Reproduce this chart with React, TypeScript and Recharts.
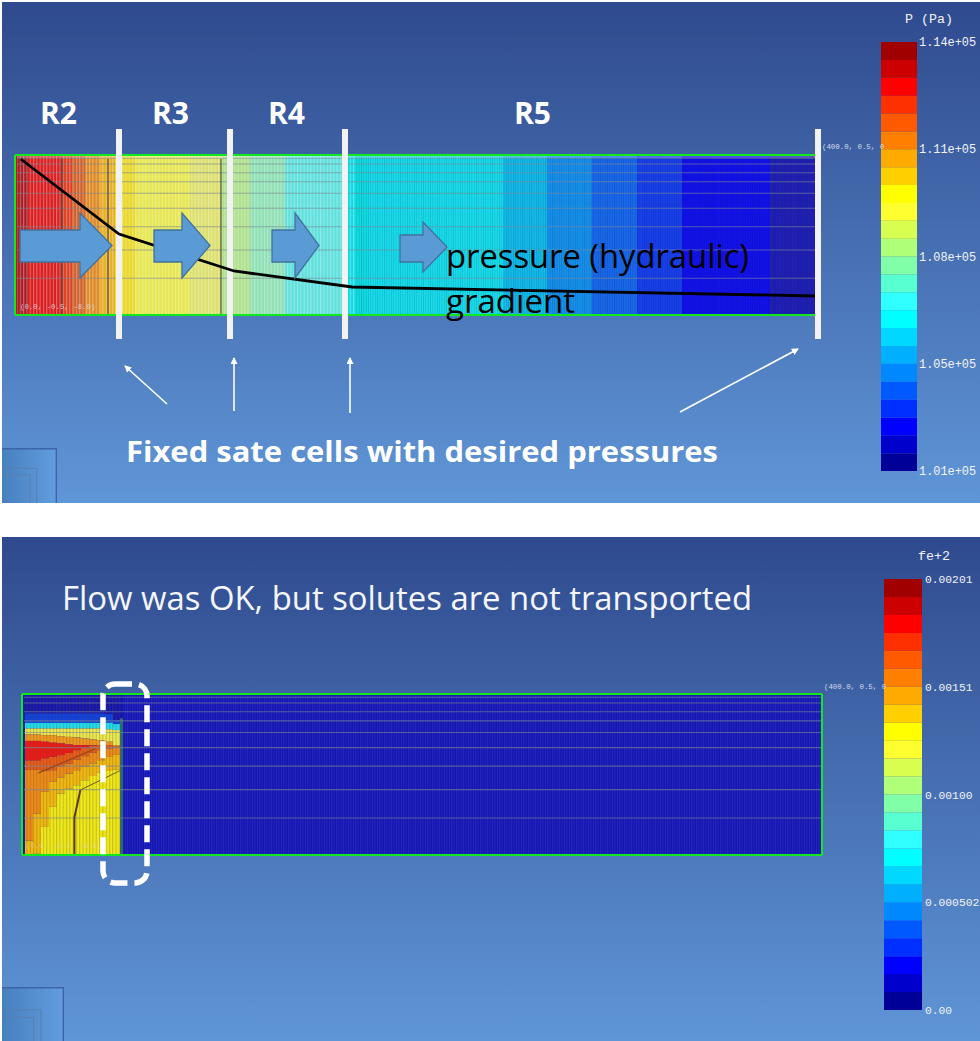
import {
  BarChart, Bar, LineChart, Line, XAxis, YAxis, ReferenceArea, ReferenceLine,
} from 'recharts'

// jet style legend, top to bottom
const LEGEND_COLORS = [
  '#a00000', '#cc0000', '#ff0000', '#ff3000', '#ff5a00', '#ff8000', '#ffaa00', '#ffd000',
  '#ffff00', '#ffff30', '#d8ff50', '#b0ff78', '#80ffa8', '#58ffd0', '#30ffff', '#00ffff',
  '#00d8ff', '#00b0ff', '#0088ff', '#0058ff', '#0030ff', '#0000ff', '#0000cc', '#000098',
]
const pressureTicks = ['1.01e+05', '1.05e+05', '1.08e+05', '1.11e+05', '1.14e+05']
const ironTicks = ['0.00', '0.000502', '0.00100', '0.00151', '0.00201']

// pressure field: width of each colour band along x (m)
const pressureBandWidths = [6.5, 17, 5, 6.5, 7.5, 7.5, 10, 27.5, 16, 14, 17.5, 30, 11.5, 67.5, 22, 22.5, 22.5, 22.5, 44, 22.5]
const pressureBandColors = [
  '#a81c24', '#d91e20', '#dc4022', '#d0622c', '#de8a26', '#e8ae24', '#e9d72a', '#e6e650', '#dce06e', '#aee08e',
  '#8fe0b4', '#5fe0dc', '#10dbe0', '#18dcea', '#12bae8', '#1690ea', '#1868ea', '#1840ea', '#1212ea', '#2020b4',
]

// hydraulic head line
const headX = [2.85, 52, 109.5, 168.5, 400]
const headY = [-0.2, -3.95, -5.8, -6.6, -7.05]

// fixed state cell columns
const fixedCellX = [52, 107.5, 165, 401.5]
// darker mesh columns in the pressure field
const darkColumnX = [23.5, 46.5, 103]
// horizontal mesh lines, same for both plots
const meshDepths = [-0.165, -0.45, -0.885, -1.335, -1.915, -2.665, -3.585, -4.75, -6.165]

// fe+2 plume: thickness of each layer in the 12 columns of the source block, top to bottom
const plumeColumns = ['c1', 'c2', 'c3', 'c4', 'c5', 'c6', 'c7', 'c8', 'c9', 'c10', 'c11', 'c12']
const plumeDeep = [0.97, 0.97, 0.97, 0.97, 0.97, 0.97, 0.97, 0.97, 0.97, 0.97, 1.0, 1.3]
const plumeBlue = [0.47, 0.47, 0.47, 0.47, 0.47, 0.47, 0.47, 0.47, 0.47, 0.47, 0.43, 0.2]
const plumeCyan = [0.28, 0.28, 0.28, 0.28, 0.28, 0.28, 0.28, 0.28, 0.28, 0.28, 0.33, 0.3]
const plumeYellowTop = [0.3, 0.3, 0.33, 0.33, 0.38, 0.42, 0.45, 0.5, 0.55, 0.58, 0.62, 0.75]
const plumeOrangeTop = [0.32, 0.32, 0.33, 0.38, 0.37, 0.38, 0.38, 0.33, 0.28, 0.25, 0.17, 0.08]
const plumeRed = [0.97, 0.97, 0.83, 0.7, 0.58, 0.42, 0.25, 0.13, 0.03, 0, 0, 0]
const plumeRedOrange = [0.47, 0.47, 0.62, 0.67, 0.58, 0.53, 0.47, 0.42, 0.35, 0.25, 0.17, 0.03]
const plumeOrange = [3.53, 2.19, 1.05, 0.58, 0.53, 0.5, 0.53, 0.53, 0.53, 0.5, 0.42, 0.38]
const plumeAmber = [0.67, 2.0, 1.75, 1.25, 0.8, 0.75, 0.75, 0.67, 0.63, 0.63, 0.7, 0.72]
const plumeYellow = [0.05, 0.05, 1.37, 2.37, 3.03, 3.28, 3.45, 3.7, 3.9, 4.07, 4.17, 4.24]

const contourThickX = [26.2, 26.2, 29.2]
const contourThickY = [-7.97, -6.13, -4.77]
const contourThinX = [29.2, 49.2]
const contourThinY = [-4.77, -3.8]
const contourUpperX = [8.3, 36.7]
const contourUpperY = [-3.92, -2.72]

const FIELD_BLUE = '#1616ae'
const GREEN = '#12e81e'
const MESH = '#7d8896'
const LABEL_FONT = '"Liberation Mono", monospace'
const SLIDE_FONT = '"Open Sans", sans-serif'

const toPoints = (xs: number[], ys: number[]) => xs.map((x, i) => ({ x, y: ys[i] }))

function abs(top: number, left = 0) {
  return { position: 'absolute' as const, top, left }
}

function Colorbar({ top, left, width, height, ticks, gap, fontSize }: {
  top: number; left: number; width: number; height: number; ticks: string[]; gap: number; fontSize: number
}) {
  const row: Record<string, number | string> = { name: 'legend' }
  const bottomUp = [...LEGEND_COLORS].reverse()
  bottomUp.forEach((_c, i) => { row[`s${i}`] = 1 })
  return (
    <div style={abs(top - 12, left)}>
      <BarChart width={width + 62} height={height + 24} data={[row]} barCategoryGap={0}
        margin={{ top: 12, right: 0, bottom: 12, left: 0 }}>
        <XAxis dataKey="name" hide />
        <YAxis orientation="right" type="number" domain={[0, 24]} ticks={[0, 6, 12, 18, 24]} width={62}
          axisLine={false} tickLine={false} tickSize={0} interval={0} tickMargin={gap}
          tickFormatter={(v: number) => ticks[v / 6]}
          tick={{ fill: '#f2f4f8', fontSize, fontFamily: LABEL_FONT }} />
        {bottomUp.map((c, i) => (
          <Bar key={c} dataKey={`s${i}`} stackId="legend" fill={c} isAnimationActive={false} />
        ))}
      </BarChart>
    </div>
  )
}

function PressureField() {
  const row: Record<string, number | string> = { name: 'field' }
  pressureBandWidths.forEach((w, i) => { row[`b${i}`] = w })
  return (
    <div style={abs(155, 15)}>
      <BarChart layout="vertical" width={800} height={160} data={[row]} barCategoryGap={0}
        margin={{ top: 0, right: 0, bottom: 0, left: 0 }}>
        <XAxis type="number" domain={[0, 400]} hide />
        <YAxis type="category" dataKey="name" hide />
        {pressureBandWidths.map((_w, i) => (
          <Bar key={i} dataKey={`b${i}`} stackId="field" fill={pressureBandColors[i]} isAnimationActive={false} />
        ))}
      </BarChart>
    </div>
  )
}

const meshLines = () => meshDepths.map((y) => (
  <ReferenceLine key={y} segment={[{ x: 1, y }, { x: 400, y }]} stroke={MESH} strokeOpacity={0.62} strokeWidth={1.1} />
))

function PressureOverlay() {
  return (
    <div style={abs(0)}>
      <LineChart width={980} height={503} margin={{ top: 129, right: 159, bottom: 164, left: 15 }}>
        <defs>
          <pattern id="meshWide" width="3.3" height="4" patternUnits="userSpaceOnUse">
            <rect width="1.1" height="4" fill="#ffffff" fillOpacity="0.32" />
          </pattern>
          <pattern id="meshFine" width="2.3" height="4" patternUnits="userSpaceOnUse">
            <rect width="0.8" height="4" fill="#000030" fillOpacity="0.14" />
          </pattern>
        </defs>
        <XAxis type="number" dataKey="x" domain={[0, 403]} hide />
        <YAxis type="number" domain={[-9.2, 1.3]} hide />
        <ReferenceArea x1={1} x2={170} y1={-8} y2={0} fill="url(#meshWide)" fillOpacity={1} />
        <ReferenceArea x1={170} x2={400} y1={-8} y2={0} fill="url(#meshFine)" fillOpacity={1} />
        <ReferenceArea x1={1} x2={400} y1={-0.15} y2={0} fill="#ffffff" fillOpacity={0.25} />
        {meshLines()}
        {darkColumnX.map((x) => (
          <ReferenceLine key={x} stroke="#4a4a3a" strokeOpacity={0.75} strokeWidth={1.5} segment={[{ x, y: -8 }, { x, y: -0.2 }]} />
        ))}
        <ReferenceLine segment={[{ x: 0, y: 0 }, { x: 400, y: 0 }]} stroke={GREEN} strokeWidth={2} />
        <ReferenceLine segment={[{ x: 0, y: -8 }, { x: 400, y: -8 }]} stroke={GREEN} strokeWidth={2} />
        <ReferenceLine segment={[{ x: 0, y: -8 }, { x: 0, y: 0 }]} stroke={GREEN} strokeWidth={2} />
        {fixedCellX.map((x) => (
          <ReferenceLine key={x} x={x} stroke="#f2f2f2" strokeWidth={6} />
        ))}
        <Line data={toPoints(headX, headY)} dataKey="y" stroke="#000000" strokeWidth={2.8} dot={false}
          isAnimationActive={false} />
      </LineChart>
    </div>
  )
}

function IronField() {
  const rows = plumeColumns.map((name, i) => ({
    name,
    deep: plumeDeep[i], blue: plumeBlue[i], cyan: plumeCyan[i], yellowTop: plumeYellowTop[i],
    orangeTop: plumeOrangeTop[i], red: plumeRed[i], redOrange: plumeRedOrange[i],
    orange: plumeOrange[i], amber: plumeAmber[i], yellow: plumeYellow[i],
  }))
  return (
    <>
      <div style={abs(694, 22)}>
        <BarChart layout="vertical" width={800} height={161} data={[{ name: 'field', rest: 400 }]} barCategoryGap={0}
          margin={{ top: 0, right: 0, bottom: 0, left: 0 }}>
          <XAxis type="number" domain={[0, 400]} hide />
          <YAxis type="category" dataKey="name" hide />
          <Bar dataKey="rest" fill={FIELD_BLUE} isAnimationActive={false} />
        </BarChart>
      </div>
      <div style={abs(694, 25)}>
        <BarChart width={96} height={161} data={rows} barCategoryGap={0}
          margin={{ top: 0, right: 0, bottom: 0, left: 0 }}>
          <XAxis dataKey="name" hide />
          <YAxis type="number" domain={[0, 8]} reversed hide />
          <Bar dataKey="deep" stackId="p" fill={FIELD_BLUE} isAnimationActive={false} />
          <Bar dataKey="blue" stackId="p" fill="#1040e0" isAnimationActive={false} />
          <Bar dataKey="cyan" stackId="p" fill="#20dcee" isAnimationActive={false} />
          <Bar dataKey="yellowTop" stackId="p" fill="#ece850" isAnimationActive={false} />
          <Bar dataKey="orangeTop" stackId="p" fill="#f09820" isAnimationActive={false} />
          <Bar dataKey="red" stackId="p" fill="#ee1818" isAnimationActive={false} />
          <Bar dataKey="redOrange" stackId="p" fill="#ea5a18" isAnimationActive={false} />
          <Bar dataKey="orange" stackId="p" fill="#ef8a18" isAnimationActive={false} />
          <Bar dataKey="amber" stackId="p" fill="#f2b810" isAnimationActive={false} />
          <Bar dataKey="yellow" stackId="p" fill="#f0e818" isAnimationActive={false} />
        </BarChart>
      </div>
    </>
  )
}

function IronOverlay() {
  return (
    <div style={abs(0)}>
      <LineChart width={980} height={1041} margin={{ top: 694, right: 158, bottom: 186, left: 22 }}>
        <defs>
          <pattern id="ironWide" width="3.3" height="4" patternUnits="userSpaceOnUse">
            <rect width="1.1" height="4" fill="#505030" fillOpacity="0.28" />
          </pattern>
          <pattern id="ironFine" width="2.4" height="4" patternUnits="userSpaceOnUse">
            <rect width="0.9" height="4" fill="#3a40e0" fillOpacity="0.4" />
          </pattern>
        </defs>
        <XAxis type="number" dataKey="x" domain={[0, 400]} hide />
        <YAxis type="number" domain={[-8, 0]} hide />
        <ReferenceArea x1={1} x2={49} y1={-8} y2={0} fill="url(#ironWide)" fillOpacity={1} />
        <ReferenceArea x1={49} x2={50.5} y1={-8} y2={-1.2} fill="#2c6a70" fillOpacity={1} />
        <ReferenceArea x1={50.5} x2={400} y1={-8} y2={0} fill="url(#ironFine)" fillOpacity={1} />
        {meshLines()}
        <Line data={toPoints(contourThickX, contourThickY)} dataKey="y" stroke="#5a3a18" strokeWidth={2} dot={false} isAnimationActive={false} />
        <Line data={toPoints(contourThinX, contourThinY)} dataKey="y" stroke="#7a5a20" strokeWidth={1} dot={false} isAnimationActive={false} />
        <Line data={toPoints(contourUpperX, contourUpperY)} dataKey="y" stroke="#8a4a18" strokeWidth={1.2} dot={false} isAnimationActive={false} />
        <ReferenceLine segment={[{ x: 0, y: 0 }, { x: 400, y: 0 }]} stroke={GREEN} strokeWidth={2} />
        <ReferenceLine segment={[{ x: 0, y: -8 }, { x: 400, y: -8 }]} stroke={GREEN} strokeWidth={2} />
        <ReferenceLine segment={[{ x: 0, y: -8 }, { x: 0, y: 0 }]} stroke={GREEN} strokeWidth={2} />
        <ReferenceLine segment={[{ x: 400, y: -8 }, { x: 400, y: 0 }]} stroke={GREEN} strokeWidth={2} />
      </LineChart>
    </div>
  )
}

function BlockArrow({ left, head, tip, shaftTop, shaftBottom, headTop, headBottom }: {
  left: number; head: number; tip: number; shaftTop: number; shaftBottom: number; headTop: number; headBottom: number
}) {
  const mid = (headTop + headBottom) / 2
  const d = `M${left},${shaftTop} L${head},${shaftTop} L${head},${headTop} L${tip},${mid} L${head},${headBottom} L${head},${shaftBottom} L${left},${shaftBottom} Z`
  return <path d={d} fill="#5b9bd5" stroke="#41719c" strokeWidth={1.3} />
}

function AxisCube({ top, size }: { top: number; size: number }) {
  const inner = size * 0.63
  const innerB = size * 0.51
  return (
    <g>
      <rect x={2} y={top} width={size} height={size} fill="url(#cubeFill)" />
      <path d={`M2,${top + 0.7} H${2 + size - 0.7} V${top + size}`} fill="none" stroke="#3f63a8" strokeWidth={1.4} />
      <path d={`M2,${top + size - inner} H${2 + inner} V${top + size}`} fill="none" stroke="#5a7fb0" strokeWidth={1} />
      <path d={`M2,${top + size - innerB} H${2 + innerB} V${top + size}`} fill="none" stroke="#5a7fb0" strokeWidth={1} />
    </g>
  )
}

function Annotations() {
  const whiteArrows = [
    [167, 404, 125, 366],
    [234, 411, 234, 358],
    [350, 413, 350, 358],
    [680, 412, 798, 349],
  ]
  return (
    <svg width={980} height={1041} style={{ ...abs(0), pointerEvents: 'none' }}>
      <defs>
        <marker id="whiteHead" markerWidth="7" markerHeight="7" refX="6" refY="3.5" orient="auto" markerUnits="userSpaceOnUse">
          <path d="M0,0 L7,3.5 L0,7 Z" fill="#ffffff" />
        </marker>
        <linearGradient id="cubeFill" x1="0" y1="0" x2="1" y2="0">
          <stop offset="0" stopColor="#4780bd" />
          <stop offset="1" stopColor="#629de0" />
        </linearGradient>
      </defs>
      <BlockArrow left={20} head={80} tip={112} shaftTop={230} shaftBottom={262} headTop={213} headBottom={278} />
      <BlockArrow left={154} head={182} tip={210} shaftTop={230} shaftBottom={262} headTop={213} headBottom={278} />
      <BlockArrow left={272} head={295} tip={319} shaftTop={230} shaftBottom={262} headTop={213} headBottom={278} />
      <BlockArrow left={400} head={423} tip={447} shaftTop={235} shaftBottom={262} headTop={222} headBottom={272} />
      <g fill="#ffffff" fontFamily={SLIDE_FONT} fontWeight={700} fontSize={30}>
        <text x={40} y={124}>R2</text>
        <text x={152} y={124}>R3</text>
        <text x={268} y={124}>R4</text>
        <text x={514} y={124}>R5</text>
        <text x={126} y={462} fontSize={29} textLength={592} lengthAdjust="spacingAndGlyphs">Fixed sate cells with desired pressures</text>
      </g>
      <g fill="#000000" fontFamily={SLIDE_FONT} fontSize={32}>
        <text x={446} y={268} textLength={303} lengthAdjust="spacingAndGlyphs">pressure (hydraulic)</text>
        <text x={446} y={313} textLength={129} lengthAdjust="spacingAndGlyphs">gradient</text>
      </g>
      <text x={62} y={610} fill="#f4f6fa" fontFamily={SLIDE_FONT} fontSize={32} textLength={690} lengthAdjust="spacingAndGlyphs">Flow was OK, but solutes are not transported</text>
      {whiteArrows.map(([x1, y1, x2, y2]) => (
        <line key={x2} x1={x1} y1={y1} x2={x2} y2={y2} stroke="#ffffff" strokeWidth={1.6} markerEnd="url(#whiteHead)" />
      ))}
      <rect x={103} y={684} width={44} height={199} rx={12} fill="none" stroke="#ffffff" strokeWidth={5.5} strokeDasharray="17 7" />
      <g fontFamily={LABEL_FONT} fontSize={13.3} fill="#f2f4f8" textAnchor="middle">
        <text x={929} y={23}>P (Pa)</text>
        <text x={934} y={560}>fe+2</text>
      </g>
      <g fontFamily={LABEL_FONT} fontSize={7.4} fill="#d5dce8">
        <text x={20} y={309} fillOpacity={0.85}>(0.0, -0.5, -8.0)</text>
        <text x={822} y={149}>(400.0, 0.5, 0</text>
        <text x={26} y={848} fillOpacity={0.45}>(0.0, -0.5, -8.0)</text>
        <text x={824} y={689}>(400.0, 0.5, 0</text>
      </g>
      <AxisCube top={448} size={55} />
      <AxisCube top={987} size={62} />
    </svg>
  )
}

export default function App() {
  const panelFill = 'linear-gradient(180deg, #2f4a8e 0%, #5f96d7 100%)'
  return (
    <div style={{ ...abs(0), width: 980, height: 1041, overflow: 'hidden', background: '#ffffff' }}>
      <div style={{ ...abs(2, 2), width: 978, height: 501, background: panelFill }} />
      <div style={{ ...abs(537, 2), width: 978, height: 504, background: panelFill }} />
      <PressureField />
      <PressureOverlay />
      <IronField />
      <IronOverlay />
      <Colorbar top={42} left={881} width={36} height={429} ticks={pressureTicks} gap={2} fontSize={11.9} />
      <Colorbar top={579} left={884} width={38} height={431} ticks={ironTicks} gap={3} fontSize={11.3} />
      <Annotations />
    </div>
  )
}
